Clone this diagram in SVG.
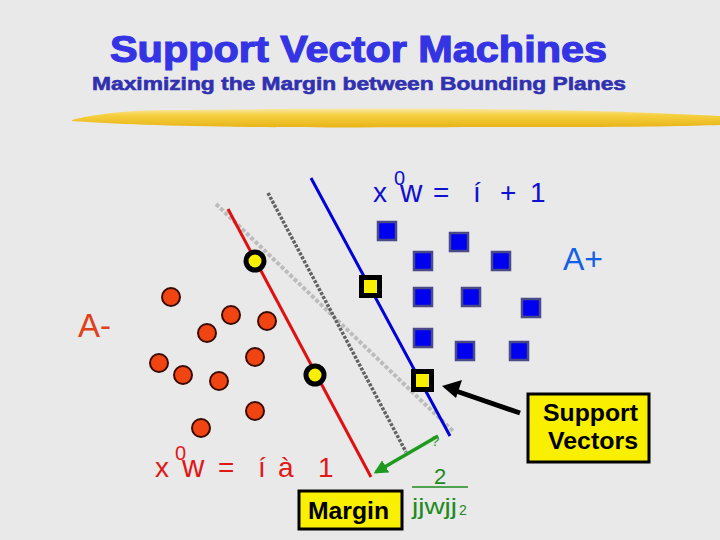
<svg xmlns="http://www.w3.org/2000/svg" width="720" height="540" viewBox="0 0 720 540">
<defs>
<style>
.t{font-family:"Liberation Sans",Arial,sans-serif}
.sq{fill:#0000f0;stroke:#4a4a88;stroke-width:2.5}
.rc{fill:#f04512;stroke:#3a0a00;stroke-width:2}
.eqb{fill:#1010d0;font-size:28px}
.eqr{fill:#e01818;font-size:28px}
.bl{font-weight:bold;fill:#000;font-size:23px}
</style>
<linearGradient id="brush" x1="0" y1="0" x2="0" y2="1">
<stop offset="0" stop-color="#f9e8a8"/>
<stop offset="0.35" stop-color="#f6d040"/>
<stop offset="1" stop-color="#e8b418"/>
</linearGradient>
<marker id="gh" viewBox="0 0 10 10" refX="8" refY="5" markerWidth="4" markerHeight="4" orient="auto-start-reverse" markerUnits="strokeWidth">
<path d="M0,0 L10,5 L0,10 z" fill="#1e9a1e"/>
</marker>
</defs>
<rect width="720" height="540" fill="#e9e9e9"/>

<g id="title">
<text class="t" x="110" y="62" font-size="37" font-weight="bold" fill="#3434e4" stroke="#3434e4" stroke-width="1.2" textLength="497" lengthAdjust="spacingAndGlyphs">Support Vector Machines</text>
<text class="t" x="92" y="90" font-size="19" font-weight="bold" fill="#3030b0" stroke="#3030b0" stroke-width="0.6" textLength="534" lengthAdjust="spacingAndGlyphs">Maximizing the Margin between Bounding Planes</text>
<path d="M72,120 C90,115 120,111 160,110 C260,109 380,108 480,109 C580,110 660,113 720,116 L720,125 C690,126 640,127 560,127 C440,127 330,128 250,127 C170,126 110,124 72,121 Z" fill="url(#brush)"/>
</g>

<g id="connectors">
<line x1="216" y1="204" x2="453" y2="431" stroke="#bcbcbc" stroke-width="4" stroke-dasharray="4 2"/>
<line x1="268" y1="193" x2="406" y2="452" stroke="#626262" stroke-width="3.5" stroke-dasharray="3 1.5"/>
<line x1="228" y1="209" x2="371" y2="477" stroke="#e01010" stroke-width="3"/>
<line x1="311" y1="178" x2="450" y2="436" stroke="#0000d8" stroke-width="3"/>
<line x1="438" y1="436" x2="376" y2="472" stroke="#1e9a1e" stroke-width="3.5" marker-end="url(#gh)"/>
<line x1="520" y1="413" x2="456" y2="391" stroke="#000" stroke-width="5"/>
<polygon points="442,386 462,380 456,398" fill="#000"/>
</g>

<g id="eq-plus">
<text class="t eqb" y="202"><tspan x="373">x</tspan><tspan x="394" y="185" font-size="20">0</tspan><tspan x="400" y="202" font-size="31">w</tspan><tspan x="433">=</tspan><tspan x="473">í</tspan><tspan x="500">+</tspan><tspan x="530">1</tspan></text>
</g>
<g id="eq-minus">
<text class="t eqr" y="477"><tspan x="155">x</tspan><tspan x="175" y="460" font-size="20">0</tspan><tspan x="182" y="477" font-size="31">w</tspan><tspan x="218">=</tspan><tspan x="258">í</tspan><tspan x="278">à</tspan><tspan x="318">1</tspan></text>
</g>
<g id="label-aplus"><text class="t" x="563" y="270" font-size="32" fill="#1060e8">A+</text></g>
<g id="label-aminus"><text class="t" x="78" y="337" font-size="33" fill="#e0401a">A-</text></g>

<g id="class-plus">
<rect class="sq" x="378" y="222" width="18" height="18"/>
<rect class="sq" x="450" y="233" width="18" height="18"/>
<rect class="sq" x="414" y="252" width="18" height="18"/>
<rect class="sq" x="492" y="252" width="18" height="18"/>
<rect class="sq" x="414" y="288" width="18" height="18"/>
<rect class="sq" x="462" y="288" width="18" height="18"/>
<rect class="sq" x="522" y="299" width="18" height="18"/>
<rect class="sq" x="414" y="329" width="18" height="18"/>
<rect class="sq" x="456" y="342" width="18" height="18"/>
<rect class="sq" x="510" y="342" width="18" height="18"/>
</g>
<g id="sv-plus">
<rect x="359" y="275" width="23" height="23" fill="#000"/>
<rect x="364" y="280" width="13" height="13" fill="#f8f000"/>
<rect x="411" y="369" width="23" height="23" fill="#000"/>
<rect x="416" y="374" width="13" height="13" fill="#f8f000"/>
</g>

<g id="class-minus">
<circle class="rc" cx="171" cy="297" r="9"/>
<circle class="rc" cx="231" cy="315" r="9"/>
<circle class="rc" cx="267" cy="321" r="9" fill="#ec1010"/>
<circle class="rc" cx="207" cy="333" r="9"/>
<circle class="rc" cx="159" cy="363" r="9"/>
<circle class="rc" cx="255" cy="357" r="9"/>
<circle class="rc" cx="183" cy="375" r="9"/>
<circle class="rc" cx="219" cy="381" r="9"/>
<circle class="rc" cx="255" cy="411" r="9"/>
<circle class="rc" cx="201" cy="428" r="9"/>
</g>
<g id="sv-minus">
<circle cx="255" cy="261" r="9" fill="#f8f000" stroke="#000" stroke-width="5"/>
<circle cx="315" cy="375" r="9" fill="#f8f000" stroke="#000" stroke-width="5"/>
</g>

<g id="margin-formula">
<text class="t" x="431" y="446" font-size="15" fill="#1e9a1e">?</text>
<text class="t" x="440" y="484" font-size="22" fill="#1e8a1e" text-anchor="middle">2</text>
<line x1="412" y1="487" x2="468" y2="487" stroke="#1e8a1e" stroke-width="1.5"/>
<text class="t" y="514" fill="#1e8a1e"><tspan x="412" font-size="22" textLength="45" lengthAdjust="spacingAndGlyphs">jjwjj</tspan><tspan x="459" y="515" font-size="14">2</tspan></text>
</g>

<g id="margin-box">
<rect x="299" y="491" width="103" height="38" fill="#f8f000" stroke="#000" stroke-width="3"/>
<text class="t bl" x="308" y="519" textLength="81" lengthAdjust="spacingAndGlyphs">Margin</text>
</g>
<g id="sv-box">
<rect x="528" y="394" width="121" height="68" fill="#f8f000" stroke="#000" stroke-width="3"/>
<text class="t bl" x="543" y="421" textLength="95" lengthAdjust="spacingAndGlyphs">Support</text>
<text class="t bl" x="548" y="449" textLength="90" lengthAdjust="spacingAndGlyphs">Vectors</text>
</g>
</svg>
